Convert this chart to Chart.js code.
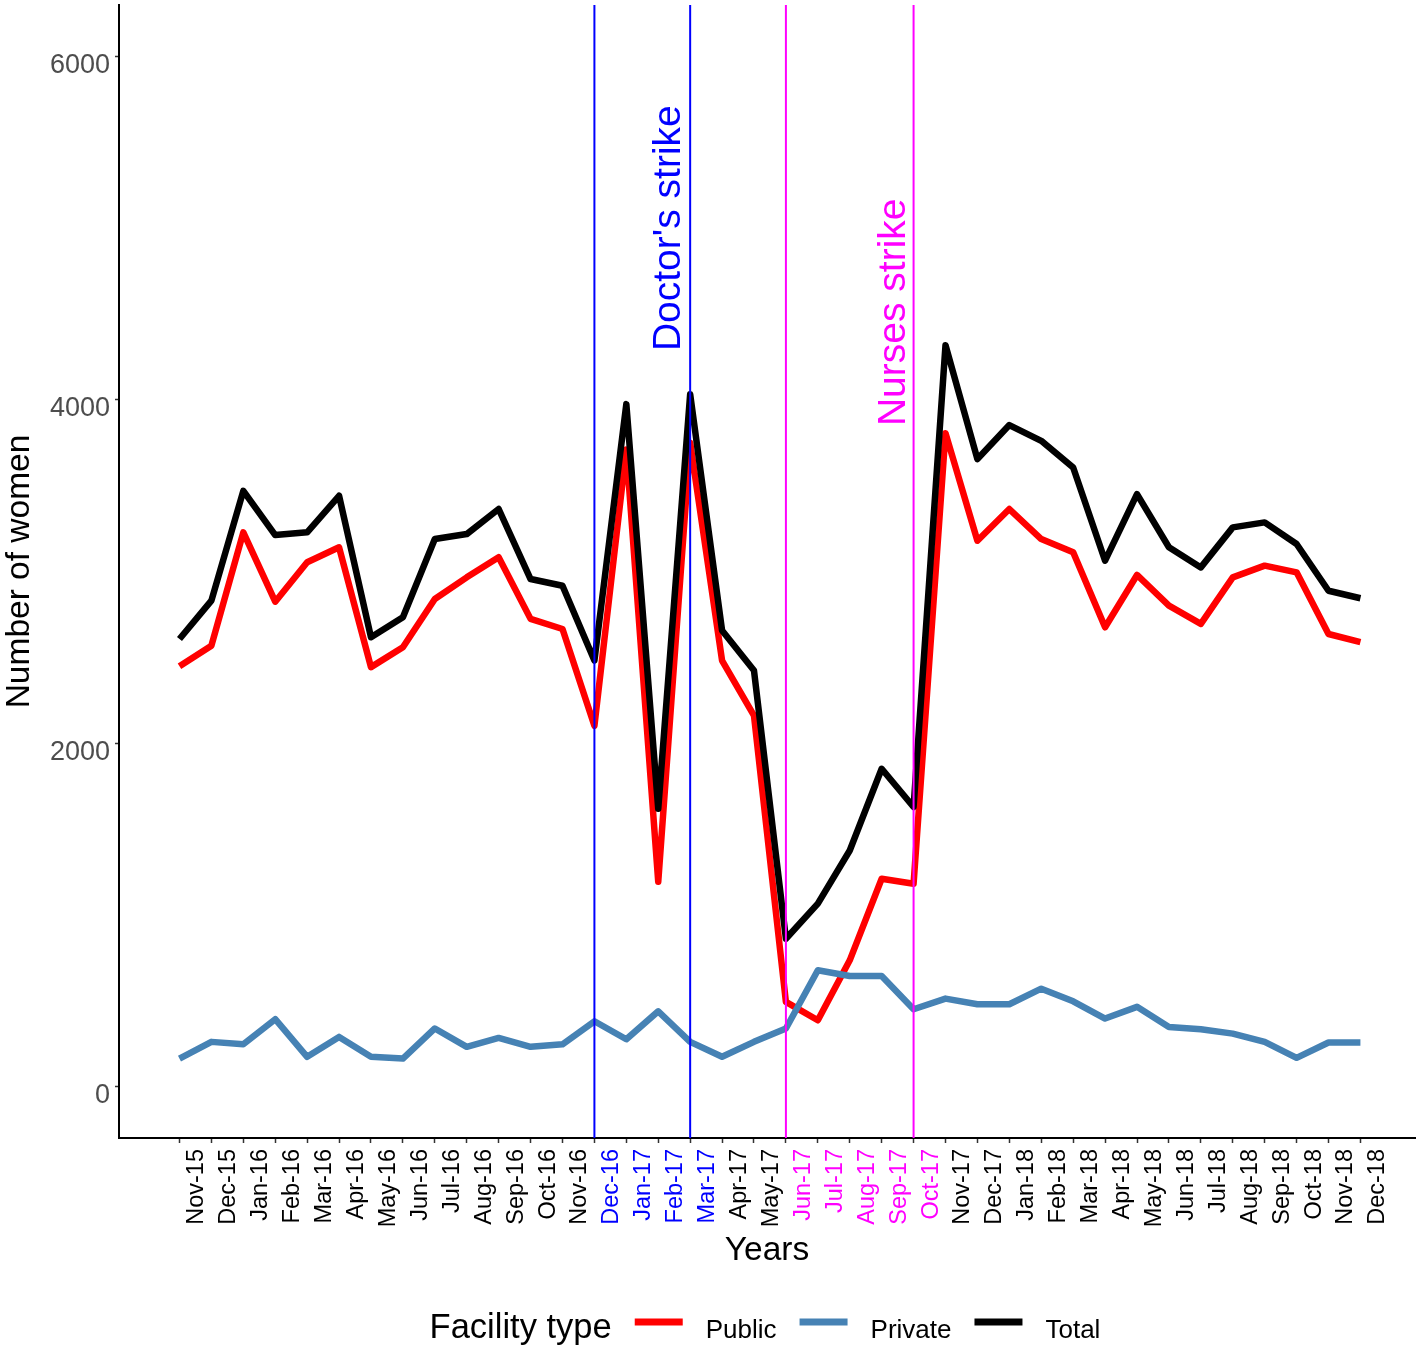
<!DOCTYPE html>
<html>
<head>
<meta charset="utf-8">
<title>Number of women by facility type</title>
<script src="https://cdn.jsdelivr.net/npm/chart.js@4.4.1/dist/chart.umd.min.js"></script>
<style>
    body { margin: 0; background: #ffffff; }
    #chart { display: block; }
</style>
</head>
<body>
<canvas id="chart" width="1422" height="1347"></canvas>
<script>
// months on the x axis
const months = [
    "Nov-15", "Dec-15", "Jan-16", "Feb-16", "Mar-16", "Apr-16", "May-16", "Jun-16",
    "Jul-16", "Aug-16", "Sep-16", "Oct-16", "Nov-16", "Dec-16", "Jan-17", "Feb-17",
    "Mar-17", "Apr-17", "May-17", "Jun-17", "Jul-17", "Aug-17", "Sep-17", "Oct-17",
    "Nov-17", "Dec-17", "Jan-18", "Feb-18", "Mar-18", "Apr-18", "May-18", "Jun-18",
    "Jul-18", "Aug-18", "Sep-18", "Oct-18", "Nov-18", "Dec-18"
];

const publicValues = [
    2448, 2568, 3228, 2824, 3054, 3141, 2443, 2559, 2840, 2966, 3083, 2724, 2665,
    2101, 3710, 1193, 3750, 2481, 2161, 493, 386, 735, 1210, 1181, 3806, 3179,
    3364, 3189, 3112, 2675, 2980, 2801, 2695, 2966, 3034, 2995, 2636, 2588
];

const privateValues = [
    163, 260, 246, 392, 173, 289, 173, 163, 338, 231, 283, 231, 246,
    380, 275, 438, 260, 173, 260, 338, 677, 644, 644, 450, 512, 479,
    479, 570, 496, 396, 464, 347, 333, 308, 260, 167, 256, 256
];

const totalValues = [
    2607, 2830, 3470, 3212, 3228, 3441, 2617, 2734, 3189, 3218, 3364, 2956, 2917,
    2481, 3975, 1618, 4033, 2656, 2423, 861, 1065, 1375, 1851, 1628, 4318, 3655,
    3853, 3761, 3606, 3063, 3451, 3141, 3024, 3257, 3286, 3160, 2888, 2844
];

const yTickValues = [0, 2000, 4000, 6000];

const doctorStrikeMonths = ["Dec-16", "Jan-17", "Feb-17", "Mar-17"];
const nurseStrikeMonths = ["Jun-17", "Jul-17", "Aug-17", "Sep-17", "Oct-17"];

const doctorColor = "#0000FF";
const nurseColor = "#FF00FF";
const fontFamily = "'Liberation Sans', Arial, Helvetica, sans-serif";

window.addEventListener("DOMContentLoaded", loadEvent);

function loadEvent(){
    Chart.defaults.font.family = fontFamily;
    createChart(document.getElementById("chart"));
}

function monthColor(month){
    if (doctorStrikeMonths.includes(month)) return doctorColor;
    if (nurseStrikeMonths.includes(month)) return nurseColor;
    return "#000000";
}

function makeDataset(label, values, color, order){
    return {
        label: label,
        data: values.map((v, i) => ({x: i, y: v})),
        borderColor: color,
        backgroundColor: color,
        borderWidth: 6.5,
        borderJoinStyle: "round",
        borderCapStyle: "butt",
        pointRadius: 0,
        tension: 0,
        order: order
    };
}

// vertical strike lines + rotated text, drawn over the data lines
const strikePlugin = {
    id: "strikes",
    afterDatasetsDraw(chart){
        const {ctx, chartArea, scales: {x, y}} = chart;
        const lines = [
            {month: doctorStrikeMonths[0], color: doctorColor},
            {month: doctorStrikeMonths[doctorStrikeMonths.length - 1], color: doctorColor},
            {month: nurseStrikeMonths[0], color: nurseColor},
            {month: nurseStrikeMonths[nurseStrikeMonths.length - 1], color: nurseColor}
        ];
        ctx.save();
        lines.forEach(line => {
            const px = x.getPixelForValue(months.indexOf(line.month));
            ctx.strokeStyle = line.color;
            ctx.lineWidth = 2;
            ctx.beginPath();
            ctx.moveTo(px, chartArea.top);
            ctx.lineTo(px, chartArea.bottom);
            ctx.stroke();
        });
        const notes = [
            {text: "Doctor's strike", x: 15.36, y: 5000, color: doctorColor},
            {text: "Nurses strike", x: 22.41, y: 4510, color: nurseColor}
        ];
        ctx.font = "39px " + fontFamily;
        ctx.textAlign = "center";
        ctx.textBaseline = "middle";
        notes.forEach(note => {
            ctx.save();
            ctx.translate(x.getPixelForValue(note.x), y.getPixelForValue(note.y));
            ctx.rotate(-Math.PI / 2);
            ctx.fillStyle = note.color;
            ctx.fillText(note.text, 0, 0);
            ctx.restore();
        });
        ctx.restore();
    }
};

// ggplot style legend with the title on the left
const legendPlugin = {
    id: "bottomLegend",
    afterDraw(chart){
        const {ctx, chartArea} = chart;
        const items = chart.data.datasets;
        const titleFont = "34.5px " + fontFamily;
        const labelFont = "26px " + fontFamily;
        const swatch = 48;
        const gap = 23;
        ctx.save();
        ctx.font = titleFont;
        const titleWidth = ctx.measureText("Facility type").width;
        ctx.font = labelFont;
        const labelWidths = items.map(d => ctx.measureText(d.label).width);
        let total = titleWidth;
        labelWidths.forEach(w => total += gap + swatch + gap + w);
        let cx = (chartArea.left + chartArea.right) / 2 - 2 - total / 2;
        const baseline = 1338;
        const lineY = 1322;
        ctx.fillStyle = "#000000";
        ctx.textBaseline = "alphabetic";
        ctx.textAlign = "left";
        ctx.font = titleFont;
        ctx.fillText("Facility type", cx, baseline);
        cx += titleWidth;
        ctx.font = labelFont;
        items.forEach((d, i) => {
            cx += gap;
            ctx.strokeStyle = d.borderColor;
            ctx.lineWidth = 7;
            ctx.beginPath();
            ctx.moveTo(cx, lineY);
            ctx.lineTo(cx + swatch, lineY);
            ctx.stroke();
            cx += swatch + gap;
            ctx.fillText(d.label, cx, baseline);
            cx += labelWidths[i];
        });
        ctx.restore();
    }
};

function createChart(canvas){
    new Chart(canvas, {
        type: "line",
        data: {
            datasets: [
                makeDataset("Public", publicValues, "#FF0000", 3),
                makeDataset("Private", privateValues, "#4682B4", 2),
                makeDataset("Total", totalValues, "#000000", 1)
            ]
        },
        options: {
            responsive: false,
            animation: false,
            layout: {padding: {top: 5, right: 7, bottom: 57, left: 0}},
            plugins: {
                legend: {display: false},
                tooltip: {enabled: false}
            },
            scales: {
                x: {
                    type: "linear",
                    min: -1.895,
                    max: months.length - 1 + 1.71,
                    afterBuildTicks: scale => {
                        scale.ticks = months.map((m, i) => ({value: i}));
                    },
                    afterFit: scale => { scale.height = 152; },
                    grid: {
                        drawOnChartArea: false,
                        drawTicks: true,
                        tickLength: 5,
                        tickColor: "#333333",
                        tickWidth: 1.5
                    },
                    border: {display: true, color: "#000000", width: 2},
                    ticks: {
                        autoSkip: false,
                        minRotation: 90,
                        maxRotation: 90,
                        padding: 6,
                        labelOffset: 17.5,
                        font: {size: 23.5},
                        color: c => monthColor(months[c.tick ? c.tick.value : c.index]),
                        callback: v => months[v]
                    },
                    title: {
                        display: true,
                        text: "Years",
                        color: "#000000",
                        font: {size: 33.5},
                        padding: {top: 0, bottom: 19}
                    }
                },
                y: {
                    min: -300,
                    max: 6300,
                    afterBuildTicks: scale => {
                        scale.ticks = yTickValues.map(v => ({value: v}));
                    },
                    afterFit: scale => {
                        scale.width = 119;
                        scale.paddingTop = 0;
                        scale.paddingBottom = 0;
                    },
                    grid: {
                        drawOnChartArea: false,
                        drawTicks: true,
                        tickLength: 4,
                        tickColor: "#333333",
                        tickWidth: 1.5
                    },
                    border: {display: true, color: "#000000", width: 2},
                    ticks: {
                        padding: 5,
                        labelOffset: 9,
                        font: {size: 27},
                        color: "#4D4D4D",
                        callback: v => String(v)
                    },
                    title: {
                        display: true,
                        text: "Number of women",
                        color: "#000000",
                        font: {size: 33.5},
                        padding: {top: 0, bottom: 0}
                    }
                }
            }
        },
        plugins: [strikePlugin, legendPlugin]
    });
}
</script>
</body>
</html>
